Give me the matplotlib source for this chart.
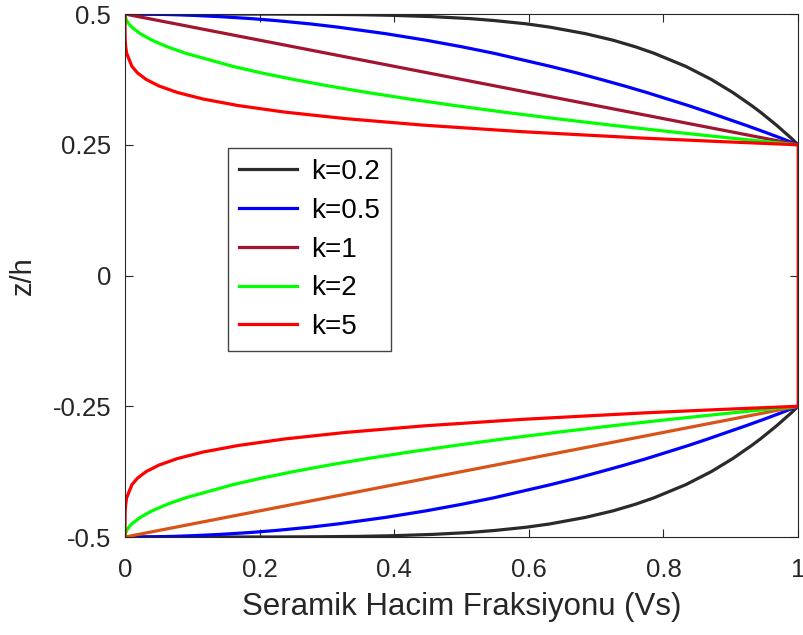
import numpy as np
import matplotlib
matplotlib.use('Agg')
import matplotlib.pyplot as plt

plt.rcParams['font.family'] = ['Liberation Sans', 'DejaVu Sans']

# z/h values of the upper face layer (the lower layer is its mirror)
z_top = [0.5, 0.4999, 0.4995, 0.4988, 0.4975, 0.495, 0.4913, 0.4875, 0.4813, 0.475,
         0.4625, 0.45, 0.4375, 0.425, 0.4, 0.3875, 0.375, 0.3625, 0.35, 0.3375,
         0.325, 0.3125, 0.3, 0.2875, 0.275, 0.2625, 0.2563, 0.25]

# ceramic volume fraction
v_k02 = [0, 0.219, 0.289, 0.347, 0.398, 0.457, 0.512, 0.549, 0.596, 0.631, 0.684, 0.725,
         0.758, 0.786, 0.833, 0.852, 0.871, 0.887, 0.903, 0.917, 0.931, 0.944, 0.956,
         0.968, 0.979, 0.990, 0.995, 1]
v_k05 = [0, 0.022, 0.045, 0.071, 0.100, 0.141, 0.187, 0.224, 0.274, 0.316, 0.387, 0.447,
         0.500, 0.548, 0.632, 0.671, 0.707, 0.742, 0.775, 0.806, 0.837, 0.866, 0.894,
         0.922, 0.949, 0.975, 0.987, 1]
v_k1 = [0, 0.0005, 0.002, 0.005, 0.01, 0.02, 0.035, 0.05, 0.075, 0.1, 0.15, 0.2, 0.25,
        0.3, 0.4, 0.45, 0.5, 0.55, 0.6, 0.65, 0.7, 0.75, 0.8, 0.85, 0.9, 0.95, 0.975, 1]
v_k2 = [0, 0, 0, 0, 0.0001, 0.0004, 0.0012, 0.0025, 0.0056, 0.01, 0.0225, 0.04, 0.0625,
        0.09, 0.16, 0.2025, 0.25, 0.3025, 0.36, 0.4225, 0.49, 0.5625, 0.64, 0.7225, 0.81,
        0.9025, 0.9506, 1]
v_k5 = [0, 0, 0, 0, 0, 0, 0, 0, 0, 0.00001, 0.00008, 0.0003, 0.001, 0.0024, 0.0102,
        0.0185, 0.0313, 0.0503, 0.0778, 0.1160, 0.1681, 0.2373, 0.3277, 0.4437, 0.5905,
        0.7738, 0.8811, 1]

# fully ceramic core
core_v = [1, 1]
core_z = [0.25, -0.25]

labels = ['k=0.2', 'k=0.5', 'k=1', 'k=2', 'k=5']
series = [v_k02, v_k05, v_k1, v_k2, v_k5]
top_colors = ['#2a2a2a', '#0000ff', '#a2142f', '#00ff00', '#ff0000']
bottom_colors = ['#2a2a2a', '#0000ff', '#d95319', '#00ff00', '#ff0000']

fig = plt.figure(figsize=(8.04, 6.35), dpi=100)
ax = fig.add_axes([0.1555, 0.1543, 0.8371, 0.8236])

z_bot = [-z for z in z_top]
for v, c in zip(series, bottom_colors):
    ax.plot(v, z_bot, color=c, lw=2.3)
for v, c, lab in zip(series, top_colors, labels):
    ax.plot(v, z_top, color=c, lw=2.3, label=lab)
    ax.plot(core_v, core_z, color=c, lw=2.3)

ax.set_xlim(0, 1)
ax.set_ylim(-0.5, 0.5)
ax.set_xticks([0, 0.2, 0.4, 0.6, 0.8, 1])
ax.set_xticklabels(['0', '0.2', '0.4', '0.6', '0.8', '1'])
ax.set_yticks([-0.5, -0.25, 0, 0.25, 0.5])
ax.set_yticklabels(['-0.5', '-0.25', '0', '0.25', '0.5'])
ax.tick_params(direction='in', length=6, width=0.8, top=True, right=True,
               labelsize=18.5, colors='#262626')
ax.tick_params(axis='x', pad=15)
ax.tick_params(axis='y', pad=10)
for s in ax.spines.values():
    s.set_color('#262626')
    s.set_linewidth(0.8)

ax.set_xlabel('Seramik Hacim Fraksiyonu (Vs)', fontsize=22.5, color='#262626', labelpad=7)
ax.set_ylabel('z/h', fontsize=21, color='#262626', labelpad=11)

leg = ax.legend(loc='upper left', bbox_to_anchor=(0.153, 0.744), borderaxespad=0,
                fontsize=20, handlelength=2.1, labelspacing=0.46, fancybox=False,
                framealpha=1, borderpad=0.4, handletextpad=0.5)
leg.get_frame().set_edgecolor('#444444')
leg.get_frame().set_linewidth(1.0)

fig.savefig('out.png', dpi=100)
